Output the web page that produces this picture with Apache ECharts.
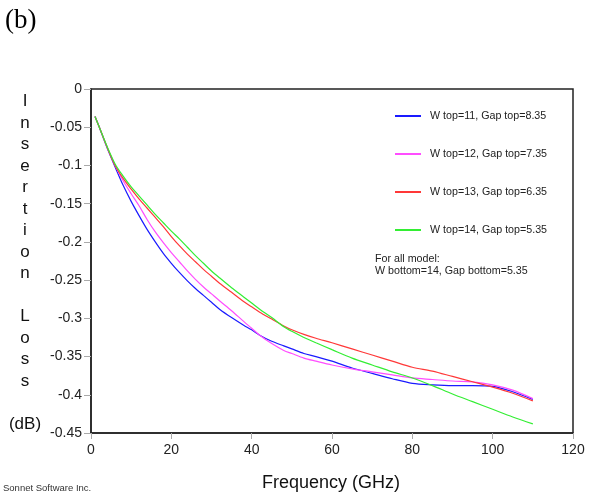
<!DOCTYPE html>
<html>
<head>
<meta charset="utf-8">
<title>Insertion Loss</title>
<script src="https://cdn.jsdelivr.net/npm/echarts@6/dist/echarts.min.js"></script>
<style>
  html, body { margin: 0; padding: 0; background: #fff; }
  #chart { width: 589px; height: 492px; }
</style>
</head>
<body>
<div id="chart"></div>
<script>
// frequency points (GHz)
var freq = [1, 2, 4, 6, 8, 10, 12, 14, 16, 18, 20, 22, 24, 26, 28, 30, 32, 35, 38, 40,
    42, 45, 48, 50, 53, 56, 60, 65, 70, 75, 80, 85, 90, 95, 100, 105, 110];

// insertion loss (dB)
var wTop11 = [-0.036, -0.049, -0.077, -0.102, -0.126, -0.147, -0.166, -0.184, -0.200, -0.215,
    -0.228, -0.240, -0.251, -0.261, -0.270, -0.279, -0.288, -0.299, -0.309, -0.315,
    -0.322, -0.330, -0.336, -0.340, -0.346, -0.350, -0.356, -0.365, -0.372, -0.379,
    -0.385, -0.387, -0.388, -0.388, -0.389, -0.396, -0.406];
var wTop12 = [-0.036, -0.049, -0.076, -0.100, -0.120, -0.137, -0.153, -0.171, -0.187, -0.201,
    -0.214, -0.226, -0.238, -0.249, -0.259, -0.268, -0.277, -0.290, -0.304, -0.313,
    -0.322, -0.333, -0.342, -0.346, -0.352, -0.356, -0.361, -0.366, -0.370, -0.374,
    -0.378, -0.380, -0.382, -0.383, -0.387, -0.394, -0.405];
var wTop13 = [-0.036, -0.049, -0.076, -0.100, -0.117, -0.131, -0.144, -0.156, -0.168, -0.180,
    -0.193, -0.205, -0.216, -0.226, -0.236, -0.245, -0.254, -0.266, -0.278, -0.285,
    -0.292, -0.301, -0.310, -0.315, -0.321, -0.326, -0.332, -0.340, -0.348, -0.356,
    -0.364, -0.369, -0.376, -0.383, -0.390, -0.398, -0.408];
var wTop14 = [-0.036, -0.049, -0.075, -0.098, -0.114, -0.128, -0.140, -0.152, -0.164, -0.175,
    -0.186, -0.196, -0.207, -0.218, -0.228, -0.238, -0.247, -0.260, -0.272, -0.280,
    -0.288, -0.299, -0.311, -0.317, -0.325, -0.332, -0.341, -0.352, -0.361, -0.370,
    -0.378, -0.388, -0.399, -0.409, -0.419, -0.429, -0.438];

var seriesNames = ['W top=11, Gap top=8.35', 'W top=12, Gap top=7.35',
    'W top=13, Gap top=6.35', 'W top=14, Gap top=5.35'];
var seriesColors = ['#1a1aff', '#ff4dff', '#ff3838', '#33ee33'];
var seriesData = [wTop11, wTop12, wTop13, wTop14];

var noteText = 'For all model:\nW bottom=14, Gap bottom=5.35';
var yTitle = 'I\nn\ns\ne\nr\nt\ni\no\nn\n\nL\no\ns\ns\n\n(dB)';

var sans = 'Liberation Sans, Arial, sans-serif';

function pairs(ys) {
    var out = [];
    for (var i = 0; i < freq.length; i++) {
        out.push([freq[i], ys[i]]);
    }
    return out;
}

var chart = echarts.init(document.getElementById('chart'));

chart.setOption({
    animation: false,
    backgroundColor: '#fff',
    textStyle: { fontFamily: sans },
    grid: {
        left: 91, top: 89, right: 16, bottom: 59,
        show: true, borderColor: '#222', borderWidth: 1.5
    },
    legend: {
        orient: 'vertical',
        left: 390, top: 104,
        itemWidth: 26, itemHeight: 2, itemGap: 24,
        icon: 'rect',
        textStyle: {
            fontFamily: sans, fontSize: 10.7, color: '#222',
            lineHeight: 14, padding: [0, 0, 0, 4]
        },
        data: seriesNames
    },
    xAxis: {
        type: 'value',
        min: 0, max: 120, interval: 20,
        axisLine: { onZero: false, lineStyle: { color: '#222', width: 1.5 } },
        axisTick: { show: true, length: 6, lineStyle: { color: '#aaa' } },
        axisLabel: { color: '#222', fontSize: 14, margin: 10, fontFamily: sans },
        splitLine: { show: false }
    },
    yAxis: {
        type: 'value',
        min: -0.45, max: 0, interval: 0.05,
        axisLine: { show: true, onZero: false, lineStyle: { color: '#222', width: 1.5 } },
        axisTick: { show: true, length: 7, lineStyle: { color: '#aaa' } },
        axisLabel: { color: '#222', fontSize: 14, margin: 9, fontFamily: sans },
        splitLine: { show: false }
    },
    graphic: [
        {
            type: 'text', left: 5, top: 7,
            style: { text: '(b)', font: '27px "Liberation Serif", "Times New Roman", serif', fill: '#000' }
        },
        {
            type: 'text', x: 25, y: 91,
            style: {
                text: yTitle, textAlign: 'center', fill: '#111',
                font: '17px ' + sans, lineHeight: 21.5
            }
        },
        {
            type: 'text', x: 331, y: 483,
            style: {
                text: 'Frequency (GHz)', textAlign: 'center', textVerticalAlign: 'middle',
                font: '18px ' + sans, fill: '#111'
            }
        },
        {
            type: 'text', x: 3, y: 488,
            style: {
                text: 'Sonnet Software Inc.', textVerticalAlign: 'middle',
                font: '9.5px ' + sans, fill: '#333'
            }
        },
        {
            type: 'text', x: 375, y: 253,
            style: {
                text: noteText, font: '10.7px ' + sans, fill: '#222', lineHeight: 12
            }
        }
    ],
    series: seriesData.map(function (ys, i) {
        return {
            name: seriesNames[i],
            type: 'line',
            data: pairs(ys),
            smooth: 0.3,
            showSymbol: false,
            symbol: 'none',
            color: seriesColors[i],
            lineStyle: { width: 1.2, color: seriesColors[i] }
        };
    })
});
</script>
</body>
</html>
